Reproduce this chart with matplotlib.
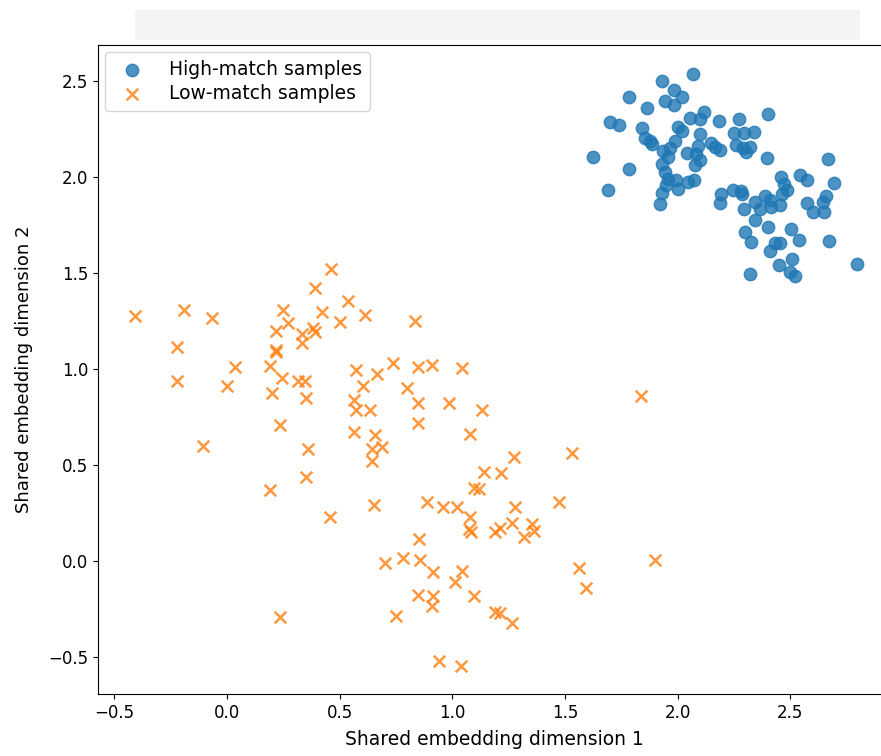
import numpy as np
import matplotlib
matplotlib.use('Agg')
import matplotlib.pyplot as plt
from matplotlib.patches import Rectangle

# high-match cluster
high_x = [2.068, 1.929, 1.982, 2.019, 1.783, 1.944, 1.984, 1.866, 2.115, 2.402,
          2.056, 2.098, 2.182, 2.274, 1.702, 1.740, 1.840, 2.003, 2.019, 2.101,
          2.251, 2.296, 2.341, 1.855, 1.879, 1.885, 1.990, 2.149, 2.090, 2.165,
          2.188, 2.260, 2.290, 2.319, 2.305, 1.935, 1.968, 2.041, 2.083, 1.624,
          2.396, 2.668, 1.929, 1.959, 2.075, 2.098, 1.783, 1.942, 1.957, 1.991,
          2.047, 2.071, 2.457, 2.541, 2.573, 2.692, 1.690, 1.947, 2.003, 2.473,
          2.485, 1.929, 1.923, 2.194, 2.186, 2.245, 2.281, 2.287, 2.461, 2.343,
          2.387, 2.411, 2.452, 2.416, 2.365, 2.294, 2.575, 2.659, 2.647, 2.600,
          2.649, 2.343, 2.399, 2.501, 2.300, 2.327, 2.540, 2.671, 2.433, 2.452,
          2.409, 2.509, 2.451, 2.795, 2.322, 2.497, 2.519]
high_y = [2.536, 2.501, 2.453, 2.415, 2.418, 2.395, 2.375, 2.360, 2.338, 2.331,
          2.310, 2.300, 2.293, 2.302, 2.286, 2.272, 2.253, 2.261, 2.239, 2.222,
          2.230, 2.227, 2.237, 2.204, 2.188, 2.170, 2.188, 2.175, 2.161, 2.154,
          2.140, 2.166, 2.152, 2.157, 2.128, 2.135, 2.149, 2.123, 2.119, 2.102,
          2.100, 2.094, 2.070, 2.105, 2.062, 2.088, 2.042, 2.027, 1.992, 1.987,
          1.974, 1.987, 2.001, 2.009, 1.987, 1.971, 1.930, 1.957, 1.940, 1.966,
          1.931, 1.917, 1.858, 1.914, 1.865, 1.935, 1.926, 1.910, 1.914, 1.870,
          1.901, 1.883, 1.853, 1.844, 1.836, 1.832, 1.865, 1.900, 1.870, 1.818,
          1.818, 1.778, 1.740, 1.731, 1.714, 1.661, 1.670, 1.665, 1.658, 1.658,
          1.613, 1.573, 1.540, 1.549, 1.497, 1.505, 1.486]

# low-match cluster
low_x = [0.460, 0.393, -0.409, -0.191, -0.068, 0.251, 0.272, 0.220, 0.538, 0.612,
         0.420, 0.504, 0.383, 0.392, 0.333, 0.334, -0.220, 0.217, 0.220, 0.035,
         0.191, 0.243, 0.316, 0.346, -0.220, 0.001, 0.198, 0.353, 0.572, 0.664,
         0.737, 0.604, 0.563, 0.575, 0.637, 0.235, 0.563, 0.658,
         0.834, 0.846, 0.910, 1.042, 0.800, 0.848, 0.986, 1.134, 0.848, 1.078, 1.836,
         -0.105, 0.358, 0.350, 0.191, 0.652, 0.457, 0.701, 0.235, 0.642, 0.690, 0.646,
         1.274, 1.531, 1.143, 1.216, 1.095, 1.118, 0.886, 0.959, 1.023, 1.078,
         1.075, 1.081, 1.279, 1.474, 1.263, 1.188, 1.214, 1.317, 1.356, 1.361,
         0.851, 0.782, 0.856, 0.915, 1.043, 1.011, 0.846, 0.915, 0.908, 1.095,
         0.749, 1.188, 1.211, 1.263, 1.562, 1.595, 1.898, 0.941, 1.038]
low_y = [1.523, 1.421, 1.274, 1.309, 1.267, 1.310, 1.239, 1.196, 1.354, 1.283,
         1.295, 1.244, 1.215, 1.192, 1.184, 1.137, 1.116, 1.100, 1.088, 1.009,
         1.015, 0.954, 0.935, 0.935, 0.935, 0.909, 0.876, 0.848, 0.996, 0.975,
         1.030, 0.914, 0.836, 0.787, 0.784, 0.710, 0.674, 0.658,
         1.249, 1.009, 1.020, 1.006, 0.900, 0.825, 0.824, 0.789, 0.719, 0.664, 0.857,
         0.601, 0.584, 0.436, 0.370, 0.293, 0.227, -0.008, -0.291, 0.584, 0.592, 0.523,
         0.540, 0.561, 0.464, 0.460, 0.380, 0.375, 0.305, 0.279, 0.283, 0.231,
         0.166, 0.149, 0.279, 0.309, 0.196, 0.149, 0.170, 0.123, 0.192, 0.158,
         0.114, 0.013, 0.005, -0.055, -0.051, -0.107, -0.176, -0.182, -0.237, -0.185,
         -0.286, -0.265, -0.269, -0.321, -0.037, -0.141, 0.006, -0.521, -0.547]

fig = plt.figure(figsize=(8.81, 7.56), dpi=100)

# faint grey band above the plot, as in the capture
fig.patches.append(Rectangle((0.153, 0.947), 0.823, 0.040, transform=fig.transFigure,
                             facecolor='#f4f4f4', edgecolor='none', zorder=0))

# axes run past the right edge of the image
ax = fig.add_axes([0.1112, 0.082, 0.901, 0.859])

ax.scatter(high_x, high_y, s=80, marker='o', color='#1f77b4', alpha=0.8,
           label='High-match samples')
ax.scatter(low_x, low_y, s=70, marker='x', color='#ff7f0e', alpha=0.8,
           linewidths=1.8, label='Low-match samples')

ax.set_xlim(-0.572, 2.95)
ax.set_ylim(-0.693, 2.69)
ax.set_xticks([-0.5, 0.0, 0.5, 1.0, 1.5, 2.0, 2.5])
ax.set_yticks([-0.5, 0.0, 0.5, 1.0, 1.5, 2.0, 2.5])
ax.tick_params(labelsize=12)

ax.set_xlabel('Shared embedding dimension 1', fontsize=13.5, labelpad=6)
ax.set_ylabel('Shared embedding dimension 2', fontsize=13, labelpad=11)
ax.legend(loc='upper left', fontsize=13.5, labelspacing=0.3, handletextpad=1.0,
          borderaxespad=0.4)

plt.savefig('out.png', dpi=100)
